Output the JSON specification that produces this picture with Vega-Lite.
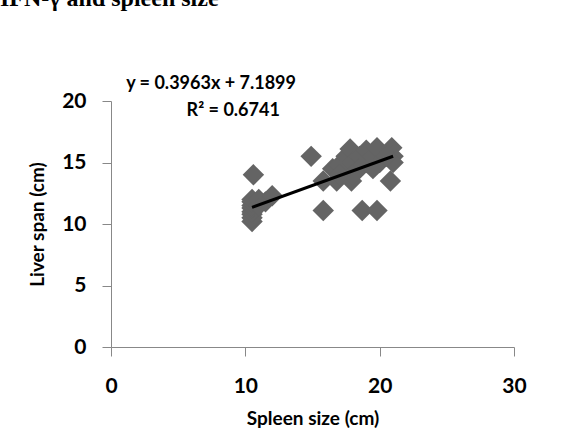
{
  "$schema": "https://vega.github.io/schema/vega-lite/v6.json",
  "width": 403,
  "height": 246,
  "autosize": {"type": "none"},
  "padding": {"left": 111, "top": 101, "right": 70, "bottom": 87},
  "background": "white",
  "config": {"view": {"stroke": null}, "font": "Lato"},
  "title": {
    "text": "IFN-γ and spleen size",
    "font": "Liberation Serif",
    "fontWeight": "bold",
    "fontSize": 24,
    "color": "black",
    "anchor": "start",
    "frame": "group",
    "baseline": "alphabetic",
    "dx": -111,
    "dy": -45,
    "offset": 0
  },
  "datasets": {
    "points": [
      {"spleen": 10.5, "liver": 10.2}, {"spleen": 10.5, "liver": 10.5}, {"spleen": 10.5, "liver": 10.8},
      {"spleen": 10.5, "liver": 11.0}, {"spleen": 10.5, "liver": 11.3}, {"spleen": 10.5, "liver": 11.5},
      {"spleen": 10.5, "liver": 11.8}, {"spleen": 10.5, "liver": 12.0}, {"spleen": 10.6, "liver": 14.0},
      {"spleen": 11.0, "liver": 11.5}, {"spleen": 11.0, "liver": 12.0}, {"spleen": 11.5, "liver": 11.8},
      {"spleen": 12.0, "liver": 12.3}, {"spleen": 14.9, "liver": 15.5}, {"spleen": 15.8, "liver": 11.1},
      {"spleen": 15.8, "liver": 13.5}, {"spleen": 16.5, "liver": 14.5}, {"spleen": 16.8, "liver": 13.5},
      {"spleen": 17.0, "liver": 14.8}, {"spleen": 17.5, "liver": 15.5}, {"spleen": 17.5, "liver": 14.0},
      {"spleen": 17.9, "liver": 13.5}, {"spleen": 17.8, "liver": 16.1}, {"spleen": 18.0, "liver": 15.0},
      {"spleen": 18.5, "liver": 15.5}, {"spleen": 18.5, "liver": 14.5}, {"spleen": 18.7, "liver": 11.1},
      {"spleen": 19.0, "liver": 15.0}, {"spleen": 19.0, "liver": 16.0}, {"spleen": 19.5, "liver": 15.5},
      {"spleen": 19.8, "liver": 11.1}, {"spleen": 19.8, "liver": 16.2}, {"spleen": 20.0, "liver": 15.0},
      {"spleen": 20.8, "liver": 13.5}, {"spleen": 20.9, "liver": 16.2}, {"spleen": 21.0, "liver": 15.5},
      {"spleen": 21.0, "liver": 15.0}, {"spleen": 20.5, "liver": 15.5}, {"spleen": 19.5, "liver": 14.5},
      {"spleen": 18.0, "liver": 14.0}, {"spleen": 17.0, "liver": 14.0}
    ],
    "trend": [
      {"spleen": 10.5, "liver": 11.35},
      {"spleen": 21.0, "liver": 15.51}
    ],
    "labels": [
      {"spleen": 7.45, "liver": 21.4, "text": "y = 0.3963x + 7.1899"},
      {"spleen": 9.1, "liver": 19.2, "text": "R² = 0.6741"}
    ]
  },
  "encoding": {
    "x": {
      "field": "spleen",
      "type": "quantitative",
      "scale": {"domain": [0, 30], "nice": false, "zero": true},
      "axis": {
        "title": "Spleen size (cm)",
        "values": [0, 10, 20, 30],
        "grid": false,
        "labelFlush": false,
        "domainColor": "#888888",
        "tickColor": "#888888",
        "tickSize": 9,
        "labelPadding": 19,
        "labelFont": "Lato",
        "labelFontSize": 21,
        "labelFontWeight": "bold",
        "labelColor": "black",
        "titleFont": "Lato",
        "titleFontSize": 19,
        "titleFontWeight": "bold",
        "titleColor": "black",
        "titlePadding": 13
      }
    },
    "y": {
      "field": "liver",
      "type": "quantitative",
      "scale": {"domain": [0, 20], "nice": false},
      "axis": {
        "title": "Liver span (cm)",
        "values": [0, 5, 10, 15, 20],
        "grid": false,
        "labelFlush": false,
        "domainColor": "#888888",
        "tickColor": "#888888",
        "tickSize": 9,
        "labelPadding": 16,
        "labelFont": "Lato",
        "labelFontSize": 21,
        "labelFontWeight": "bold",
        "labelColor": "black",
        "titleFont": "Lato",
        "titleFontSize": 19,
        "titleFontWeight": "bold",
        "titleColor": "black",
        "titlePadding": 14
      }
    }
  },
  "layer": [
    {
      "data": {"name": "points"},
      "mark": {"type": "point", "shape": "diamond", "filled": true, "color": "#646464", "opacity": 1, "size": 460}
    },
    {
      "data": {"name": "trend"},
      "mark": {"type": "line", "color": "black", "strokeWidth": 3}
    },
    {
      "data": {"name": "labels"},
      "mark": {"type": "text", "font": "Lato", "fontSize": 18, "fontWeight": "bold", "color": "black", "align": "center", "baseline": "middle"},
      "encoding": {"text": {"field": "text"}}
    }
  ]
}
